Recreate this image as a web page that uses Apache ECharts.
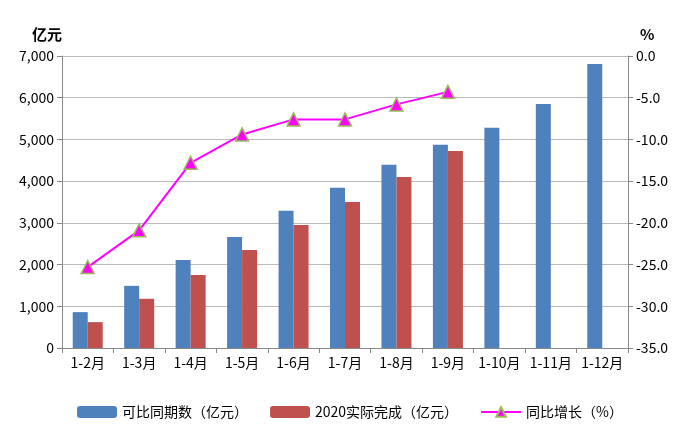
<!DOCTYPE html>
<html><head><meta charset="utf-8">
<script src="https://cdn.jsdelivr.net/npm/echarts@6/dist/echarts.min.js"></script>
</head>
<body style="margin:0">
<div id="main" style="width:700px;height:436px;"></div>
<script type="text/javascript">
    var categories = ['1-2月','1-3月','1-4月','1-5月','1-6月','1-7月','1-8月','1-9月','1-10月','1-11月','1-12月'];
    var comparable = [860, 1490, 2110, 2660, 3290, 3840, 4390, 4870, 5280, 5850, 6810];
    var actual2020 = [620, 1180, 1750, 2350, 2950, 3500, 4100, 4720, null, null, null];
    var growth = [-25.3, -20.9, -12.8, -9.4, -7.6, -7.6, -5.8, -4.3, null, null, null];

    var myChart = echarts.init(document.getElementById('main'));
    var font = 'Noto Sans CJK SC';
    var option = {
        textStyle: { fontFamily: font },
        grid: { left: 62, right: 72, top: 56, bottom: 88 },
        legend: {
            bottom: 12, itemGap: 22, itemWidth: 40, itemHeight: 12,
            textStyle: { fontSize: 14, color: '#000', fontFamily: font },
            data: ['可比同期数（亿元）', '2020实际完成（亿元）', '同比增长（%）']
        },
        xAxis: {
            type: 'category', data: categories,
            axisTick: { show: true, alignWithLabel: false, lineStyle: { color: '#888' } },
            axisLine: { lineStyle: { color: '#888' } },
            axisLabel: { color: '#000', fontSize: 14, interval: 0 }
        },
        yAxis: [{
            type: 'value', min: 0, max: 7000, interval: 1000,
            name: '亿元', nameGap: 14, nameLocation: 'end',
            nameTextStyle: { color: '#000', fontSize: 15, fontWeight: 'bold', align: 'right', padding: [0, 0, 0, 0] },
            axisLine: { show: true, lineStyle: { color: '#888' } },
            axisTick: { show: true },
            axisLabel: { color: '#000', fontSize: 14 },
            splitLine: { lineStyle: { color: '#bbb' } }
        }, {
            type: 'value', min: -35, max: 0, interval: 5,
            name: '%', nameGap: 14,
            nameTextStyle: { color: '#000', fontSize: 15, fontWeight: 'bold', align: 'left', padding: [0, 0, 0, 12] },
            axisLine: { show: true, lineStyle: { color: '#888' } },
            axisTick: { show: true },
            axisLabel: { color: '#000', fontSize: 14, formatter: function (v) { return v.toFixed(1); } },
            splitLine: { show: false }
        }],
        series: [{
            name: '可比同期数（亿元）', type: 'bar', data: comparable,
            barWidth: 15, barGap: '0%',
            itemStyle: { color: '#4f81bd' }
        }, {
            name: '2020实际完成（亿元）', type: 'bar', data: actual2020,
            barWidth: 15,
            itemStyle: { color: '#c0504d' }
        }, {
            name: '同比增长（%）', type: 'line', yAxisIndex: 1, data: growth,
            symbol: 'triangle', symbolSize: 13,
            lineStyle: { color: '#ff00ff', width: 2 },
            itemStyle: { color: '#ff00ff', borderColor: '#9bbb59', borderWidth: 1.5 }
        }]
    };
    myChart.setOption(option);
</script>
</body>
</html>
